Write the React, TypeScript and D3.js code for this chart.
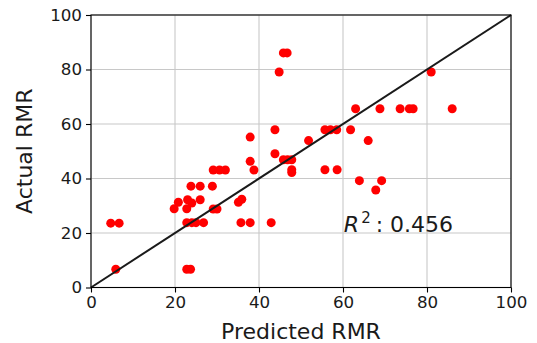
import React, { useEffect, useRef } from "react";
import * as d3 from "d3";

// Predicted vs actual RMR
const predicted = [
  4.7, 6.7, 5.9, 22.8, 23.7, 22.8, 24.0, 25.0, 26.8, 35.7, 37.9, 42.9, 19.8, 22.8, 29.1, 30.0,
  20.8, 23.0, 24.0, 26.0, 35.1, 35.9, 23.8, 26.0, 28.9, 29.1, 30.6, 32.0, 38.8, 37.9, 43.8,
  45.8, 46.8, 47.8, 47.8, 47.8, 55.7, 58.6, 37.9, 43.8, 55.7, 57.0, 58.5, 61.8, 51.8, 66.0,
  63.0, 68.8, 73.6, 75.8, 76.7, 86.0, 44.8, 81.0, 45.8, 46.7, 63.9, 69.2, 67.8,
];
const actual = [
  23.6, 23.6, 6.7, 6.7, 6.7, 23.8, 23.8, 23.8, 23.8, 23.8, 23.8, 23.8, 28.9, 28.9, 28.8, 28.8,
  31.3, 32.2, 31.0, 32.2, 31.3, 32.4, 37.2, 37.2, 37.2, 43.1, 43.1, 43.1, 43.1, 46.3, 49.1,
  46.9, 46.9, 46.9, 43.2, 42.2, 43.2, 43.2, 55.2, 57.9, 57.9, 57.9, 57.9, 57.9, 53.9, 53.9,
  65.6, 65.6, 65.6, 65.6, 65.6, 65.6, 79.1, 79.1, 86.1, 86.1, 39.2, 39.2, 35.8,
];
const ticks = [0, 20, 40, 60, 80, 100];
const r2Label = "0.456";

const App = () => {
  const svgRef = useRef<SVGSVGElement | null>(null);

  useEffect(() => {
    if (!svgRef.current) return;

    const width = 537;
    const height = 343;
    const margin = { top: 15, right: 26, bottom: 55.5, left: 91 };
    const font = "DejaVu Sans, sans-serif";

    const svg = d3.select(svgRef.current);
    svg.selectAll("*").remove();
    svg.attr("width", width).attr("height", height).style("background", "#fff");

    const x = d3.scaleLinear().domain([0, 100]).range([margin.left, width - margin.right]);
    const y = d3.scaleLinear().domain([0, 100]).range([height - margin.bottom, margin.top]);

    // grid
    const grid = svg.append("g").attr("stroke", "#c8c8c8").attr("stroke-width", 1.1);
    ticks.forEach((t) => {
      grid.append("line").attr("x1", x(t)).attr("x2", x(t)).attr("y1", y(0)).attr("y2", y(100));
      grid.append("line").attr("x1", x(0)).attr("x2", x(100)).attr("y1", y(t)).attr("y2", y(t));
    });

    // points
    svg
      .append("g")
      .selectAll("circle")
      .data(predicted.map((p, i) => [p, actual[i]]))
      .enter()
      .append("circle")
      .attr("cx", (d) => x(d[0]))
      .attr("cy", (d) => y(d[1]))
      .attr("r", 4.5)
      .attr("fill", "#ff0000");

    // y = x reference line
    svg
      .append("path")
      .datum([0, 100])
      .attr("fill", "none")
      .attr("stroke", "#1a1a1a")
      .attr("stroke-width", 2)
      .attr(
        "d",
        d3
          .line<number>()
          .x((d) => x(d))
          .y((d) => y(d))
      );

    // frame
    svg
      .append("rect")
      .attr("x", x(0))
      .attr("y", y(100))
      .attr("width", x(100) - x(0))
      .attr("height", y(0) - y(100))
      .attr("fill", "none")
      .attr("stroke", "#000")
      .attr("stroke-width", 1.1);

    // axes
    const xAxis = svg
      .append("g")
      .attr("transform", `translate(0,${y(0)})`)
      .call(d3.axisBottom(x).tickValues(ticks).tickSize(5).tickPadding(4));
    const yAxis = svg
      .append("g")
      .attr("transform", `translate(${x(0)},0)`)
      .call(d3.axisLeft(y).tickValues(ticks).tickSize(5).tickPadding(4));
    [xAxis, yAxis].forEach((a) => {
      a.select(".domain").remove();
      a.selectAll("line").attr("stroke", "#000").attr("stroke-width", 1.1);
      a.selectAll("text")
        .style("font-family", font)
        .style("font-size", "16.7px")
        .attr("fill", "#1a1a1a");
    });

    // axis labels
    svg
      .append("text")
      .attr("x", (x(0) + x(100)) / 2)
      .attr("y", 339)
      .attr("text-anchor", "middle")
      .style("font-family", font)
      .style("font-size", "22px")
      .attr("fill", "#1a1a1a")
      .text("Predicted RMR");

    svg
      .append("text")
      .attr("transform", `translate(32,${(y(0) + y(100)) / 2}) rotate(-90)`)
      .attr("text-anchor", "middle")
      .style("font-family", font)
      .style("font-size", "22px")
      .attr("fill", "#1a1a1a")
      .text("Actual RMR");

    // R^2 annotation
    const r2 = svg
      .append("text")
      .attr("x", x(60.2))
      .attr("y", y(20.4))
      .style("font-family", font)
      .style("font-size", "22px")
      .attr("fill", "#1a1a1a");
    r2.append("tspan").style("font-style", "italic").text("R");
    r2.append("tspan").attr("dx", 2).attr("dy", -9).style("font-size", "15px").text("2");
    r2.append("tspan").attr("dx", 5).attr("dy", 9).text(": " + r2Label);
  }, []);

  return (
    <svg ref={svgRef} style={{ position: "absolute", left: 0, top: 0 }}></svg>
  );
};

export default App;
